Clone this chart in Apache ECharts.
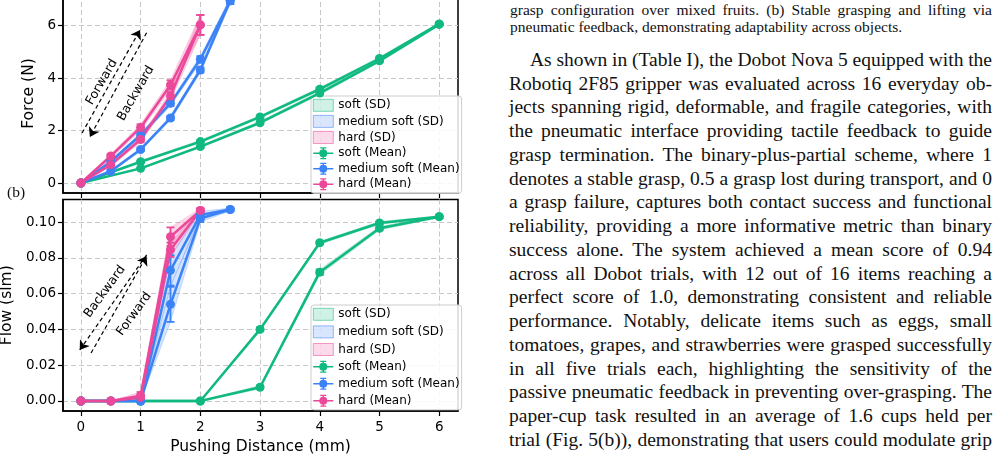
<!DOCTYPE html>
<html>
<head>
<meta charset="utf-8">
<script src="https://cdn.jsdelivr.net/npm/echarts@6/dist/echarts.min.js"></script>
<style>
html, body { margin: 0; padding: 0; background: #fff; }
#wrap { position: relative; width: 1006px; height: 455px; overflow: hidden; }
#chart { position: absolute; left: 0; top: 0; width: 480px; height: 455px; }
.ln { position: absolute; white-space: nowrap; font-family: 'Liberation Serif', 'Times New Roman', serif; color: #111; }
.ln span { display: inline-block; }
</style>
</head>
<body>
<div id="wrap">
  <div id="chart"></div>
  <div id="text"></div>
</div>
<script>
// distances (mm)
var xSoft = [0, 1, 2, 3, 4, 5, 6];
var xMed = [0, 0.5, 1, 1.5, 2, 2.5];
var xHard = [0, 0.5, 1, 1.5, 2];

// force (N), forward / backward + SD
var forceSoftFwd = [0, 0.56, 1.39, 2.30, 3.43, 4.66, 6.05];
var forceSoftFwdSd = [0, 0.03, 0.04, 0.05, 0.06, 0.05, 0.04];
var forceSoftBwd = [0, 0.81, 1.58, 2.52, 3.58, 4.75, 6.07];
var forceSoftBwdSd = [0, 0.04, 0.05, 0.05, 0.06, 0.05, 0.04];
var forceMedFwd = [0, 0.45, 1.28, 2.48, 4.31, 6.95];
var forceMedFwdSd = [0, 0.05, 0.06, 0.08, 0.10, 0.12];
var forceMedBwd = [0, 0.82, 1.83, 3.04, 4.72, 6.95];
var forceMedBwdSd = [0, 0.06, 0.08, 0.10, 0.12, 0.12];
var forceHardFwd = [0, 0.70, 1.66, 3.32, 6.03];
var forceHardFwdSd = [0, 0.06, 0.10, 0.15, 0.38];
var forceHardBwd = [0, 1.03, 2.12, 3.74, 6.03];
var forceHardBwdSd = [0, 0.08, 0.12, 0.18, 0.38];

// flow (slm)
var flowSoftFwd = [0, 0, 0, 0.0077, 0.072, 0.0965, 0.103];
var flowSoftFwdSd = [0, 0, 0, 0.001, 0.0015, 0.001, 0.0005];
var flowSoftBwd = [0, 0, 0, 0.040, 0.0884, 0.0995, 0.103];
var flowSoftBwdSd = [0, 0, 0, 0.001, 0.0008, 0.0008, 0.0005];
var flowMedFwd = [0, 0, 0, 0.054, 0.102, 0.107];
var flowMedFwdSd = [0, 0, 0, 0.0098, 0.002, 0.0008];
var flowMedBwd = [0, 0, 0, 0.073, 0.104, 0.107];
var flowMedBwdSd = [0, 0, 0, 0.0085, 0.002, 0.0008];
var flowHardFwd = [0, 0, 0.002, 0.0845, 0.1065];
var flowHardFwdSd = [0, 0, 0.0015, 0.004, 0.001];
var flowHardBwd = [0, 0, 0.003, 0.0918, 0.1065];
var flowHardBwdSd = [0, 0, 0.002, 0.0052, 0.001];

var xTicks = [0, 1, 2, 3, 4, 5, 6];
var forceTicks = [0, 2, 4, 6];
var flowTicks = [0, 0.02, 0.04, 0.06, 0.08, 0.10];

var colors = { 'soft': '#10b981', 'medium soft': '#3b82f6', 'hard': '#ec4899' };
var bandColors = { 'soft': 'rgba(16,185,129,0.22)', 'medium soft': 'rgba(59,130,246,0.22)', 'hard': 'rgba(236,72,153,0.22)' };

var captionLines = [
	'grasp configuration over mixed fruits. (b) Stable grasping and lifting via',
	'pneumatic feedback, demonstrating adaptability across objects.'
];
var bodyLines = [
	'As shown in (Table I), the Dobot Nova 5 equipped with the',
	'Robotiq 2F85 gripper was evaluated across 16 everyday ob-',
	'jects spanning rigid, deformable, and fragile categories, with',
	'the pneumatic interface providing tactile feedback to guide',
	'grasp termination. The binary-plus-partial scheme, where 1',
	'denotes a stable grasp, 0.5 a grasp lost during transport, and 0',
	'a grasp failure, captures both contact success and functional',
	'reliability, providing a more informative metric than binary',
	'success alone. The system achieved a mean score of 0.94',
	'across all Dobot trials, with 12 out of 16 items reaching a',
	'perfect score of 1.0, demonstrating consistent and reliable',
	'performance. Notably, delicate items such as eggs, small',
	'tomatoes, grapes, and strawberries were grasped successfully',
	'in all five trials each, highlighting the sensitivity of the',
	'passive pneumatic feedback in preventing over-grasping. The',
	'paper-cup task resulted in an average of 1.6 cups held per',
	'trial (Fig. 5(b)), demonstrating that users could modulate grip'
];

var font = 'DejaVu Sans';
var series = [];

function addSet(gi, mat, xs, ys, sd) {
	var c = colors[mat];
	var band = bandColors[mat];
	series.push({
		type: 'line', name: mat + ' (Mean)', xAxisIndex: gi, yAxisIndex: gi,
		data: xs.map(function (x, i) { return [x, ys[i]]; }),
		symbol: 'circle', symbolSize: 9, showSymbol: true,
		lineStyle: { width: 2.5, color: c }, itemStyle: { color: c },
		z: 4, animation: false
	});
	series.push({
		type: 'custom', name: mat + ' (SD)', xAxisIndex: gi, yAxisIndex: gi,
		data: [0], silent: true, z: 2, itemStyle: { color: band },
		renderItem: function (params, api) {
			var up = [], dn = [];
			for (var i = 0; i < xs.length; i++) {
				up.push(api.coord([xs[i], ys[i] + sd[i]]));
				dn.unshift(api.coord([xs[i], ys[i] - sd[i]]));
			}
			return { type: 'polygon', shape: { points: up.concat(dn) }, style: { fill: band, stroke: band, lineWidth: 1 } };
		}
	});
	series.push({
		type: 'custom', name: mat + ' (Mean)', xAxisIndex: gi, yAxisIndex: gi,
		data: xs.map(function (x, i) { return [x, ys[i] - sd[i], ys[i] + sd[i]]; }),
		encode: { x: 0, y: [1, 2] }, silent: true, z: 3, itemStyle: { color: c },
		renderItem: function (params, api) {
			var x = api.value(0);
			var lo = api.coord([x, api.value(1)]);
			var hi = api.coord([x, api.value(2)]);
			var w = 4;
			var st = { stroke: c, lineWidth: 1.8 };
			return {
				type: 'group', children: [
					{ type: 'line', shape: { x1: lo[0], y1: lo[1], x2: hi[0], y2: hi[1] }, style: st },
					{ type: 'line', shape: { x1: lo[0] - w, y1: lo[1], x2: lo[0] + w, y2: lo[1] }, style: st },
					{ type: 'line', shape: { x1: hi[0] - w, y1: hi[1], x2: hi[0] + w, y2: hi[1] }, style: st }
				]
			};
		}
	});
}

addSet(0, 'soft', xSoft, forceSoftFwd, forceSoftFwdSd);
addSet(0, 'soft', xSoft, forceSoftBwd, forceSoftBwdSd);
addSet(0, 'medium soft', xMed, forceMedFwd, forceMedFwdSd);
addSet(0, 'medium soft', xMed, forceMedBwd, forceMedBwdSd);
addSet(0, 'hard', xHard, forceHardFwd, forceHardFwdSd);
addSet(0, 'hard', xHard, forceHardBwd, forceHardBwdSd);

addSet(1, 'soft', xSoft, flowSoftFwd, flowSoftFwdSd);
addSet(1, 'soft', xSoft, flowSoftBwd, flowSoftBwdSd);
addSet(1, 'medium soft', xMed, flowMedFwd, flowMedFwdSd);
addSet(1, 'medium soft', xMed, flowMedBwd, flowMedBwdSd);
addSet(1, 'hard', xHard, flowHardFwd, flowHardFwdSd);
addSet(1, 'hard', xHard, flowHardBwd, flowHardBwdSd);

// dashed direction arrows with labels
function arrows(gi, lines, labels) {
	series.push({
		type: 'line', xAxisIndex: gi, yAxisIndex: gi, data: [], silent: true,
		markLine: {
			silent: true, animation: false,
			symbol: ['none', 'arrow'], symbolSize: 9,
			lineStyle: { type: [4, 3], color: '#000', width: 1.2 },
			label: { show: false },
			data: lines.map(function (l) {
				return [{ coord: l[0], symbol: 'none' }, { coord: l[1], symbol: 'arrow', symbolSize: 9 }];
			})
		},
		markPoint: {
			silent: true, animation: false, symbol: 'circle', symbolSize: 1,
			itemStyle: { color: 'rgba(0,0,0,0)' },
			data: labels.map(function (t) {
				return { name: t[0], coord: t[1], label: { show: true, position: 'inside', formatter: '{b}', rotate: t[2], fontFamily: font, fontSize: 12.5, color: '#000' } };
			})
		}
	});
}
arrows(0, [[[0.02, 1.91], [0.99, 5.84]], [[1.10, 5.73], [0.15, 1.76]]],
	[['Forward', [0.35, 3.85], 60], ['Backward', [0.92, 3.42], 60]]);
arrows(1, [[[1.10, 0.0816], [-0.02, 0.0285]], [[0.17, 0.0268], [1.10, 0.081]]],
	[['Backward', [0.40, 0.0611], 54], ['Forward', [0.89, 0.0486], 54]]);

// legend icon: line + marker + error bar
var errIcon = 'path://M0,5.3H20V6.7H0Z M9.3,0.6H10.7V11.4H9.3Z M7,0H13V1.2H7Z M7,10.8H13V12H7Z M14,6A4,4 0 1 1 6,6A4,4 0 1 1 14,6Z';
var legendNames = ['soft (SD)', 'medium soft (SD)', 'hard (SD)', 'soft (Mean)', 'medium soft (Mean)', 'hard (Mean)'];
function legendData() {
	return legendNames.map(function (n) {
		if (n.indexOf('(SD)') > 0) {
			var m = n.replace(' (SD)', '');
			return { name: n, icon: 'rect', itemStyle: { color: bandColors[m], borderColor: colors[m], borderWidth: 0.6, opacity: 0.9 } };
		}
		var mm = n.replace(' (Mean)', '');
		return { name: n, icon: errIcon, itemStyle: { color: colors[mm], borderWidth: 0 } };
	});
}
function legendAt(top, gap) {
	return {
		orient: 'vertical', left: 311, top: top, itemGap: gap, itemWidth: 20, itemHeight: 12,
		selectedMode: false,
		textStyle: { fontFamily: font, fontSize: 12, color: '#000' },
		backgroundColor: 'rgba(255,255,255,0.85)', borderColor: '#cccccc', borderWidth: 1, borderRadius: 3,
		padding: [3, 2, 3, 2],
		data: legendData()
	};
}

var axisBase = {
	type: 'value',
	axisLine: { show: true, onZero: false, lineStyle: { color: '#000', width: 1.5 } },
	axisTick: { show: true, inside: false, length: 5, lineStyle: { color: '#000', width: 1.2 } },
	splitLine: { show: true, lineStyle: { color: '#c8c8c8', type: [5, 3], width: 1 } },
	axisLabel: { fontFamily: font, fontSize: 13.5, color: '#000' }
};
function axis(extra) {
	var a = JSON.parse(JSON.stringify(axisBase));
	for (var k in extra) {
		if (typeof extra[k] === 'object' && !Array.isArray(extra[k]) && a[k]) {
			for (var j in extra[k]) a[k][j] = extra[k][j];
		} else a[k] = extra[k];
	}
	return a;
}

var option = {
	animation: false,
	backgroundColor: '#fff',
	grid: [
		{ left: 63, top: -6, width: 395, height: 199, show: true, borderColor: '#000', borderWidth: 1.5, outerBoundsMode: 'none', containLabel: false },
		{ left: 63, top: 199.5, width: 395, height: 211.5, show: true, borderColor: '#000', borderWidth: 1.5, outerBoundsMode: 'none', containLabel: false }
	],
	legend: [legendAt(96, 3.5), legendAt(305, 5)],
	xAxis: [
		axis({ gridIndex: 0, min: -0.30, max: 6.315, axisTick: { customValues: xTicks }, axisLabel: { show: false } }),
		axis({
			gridIndex: 1, min: -0.30, max: 6.315, axisTick: { customValues: xTicks },
			axisLabel: { customValues: xTicks, margin: 9 },
			name: 'Pushing Distance (mm)', nameLocation: 'middle', nameGap: 28,
			nameTextStyle: { fontFamily: font, fontSize: 15.5, color: '#000' }
		})
	],
	yAxis: [
		axis({
			gridIndex: 0, min: -0.38, max: 7.21, axisTick: { customValues: forceTicks },
			axisLabel: { customValues: forceTicks, margin: 7 },
			name: 'Force (N)', nameLocation: 'middle', nameGap: 22,
			nameTextStyle: { fontFamily: font, fontSize: 15.5, color: '#000' }
		}),
		axis({
			gridIndex: 1, min: -0.0056, max: 0.1126, axisTick: { customValues: flowTicks },
			axisLabel: { customValues: flowTicks, margin: 7, formatter: function (v) { return v.toFixed(2); } },
			name: 'Flow (slm)', nameLocation: 'middle', nameGap: 42,
			nameTextStyle: { fontFamily: font, fontSize: 15.5, color: '#000' }
		})
	],
	series: series
};

var chart = echarts.init(document.getElementById('chart'), null, { renderer: 'canvas' });
chart.setOption(option);

// surrounding paper text, justified line by line
var box = document.getElementById('text');
function putLine(txt, left, top, width, size, lh, justify) {
	var d = document.createElement('div');
	d.className = 'ln';
	d.style.left = left + 'px';
	d.style.top = top + 'px';
	d.style.fontSize = size + 'px';
	d.style.lineHeight = lh + 'px';
	var s = document.createElement('span');
	s.textContent = txt;
	d.appendChild(s);
	box.appendChild(d);
	if (justify) {
		var gaps = (txt.match(/ /g) || []).length;
		var extra = width - s.getBoundingClientRect().width;
		if (gaps > 0) s.style.wordSpacing = (extra / gaps) + 'px';
	}
}
var textRight = 992;
for (var i = 0; i < captionLines.length; i++) {
	putLine(captionLines[i], 510, 1.8 + i * 16.7, textRight - 510, 15.5, 16, i < captionLines.length - 1);
}
for (var j = 0; j < bodyLines.length; j++) {
	var lx = j === 0 ? 530 : 509;
	putLine(bodyLines[j], lx, 49.9 + j * 23.75, textRight - lx, 19.5, 20, true);
}
putLine('(b)', 7, 184.3, 0, 15.5, 16, false);
</script>
</body>
</html>
